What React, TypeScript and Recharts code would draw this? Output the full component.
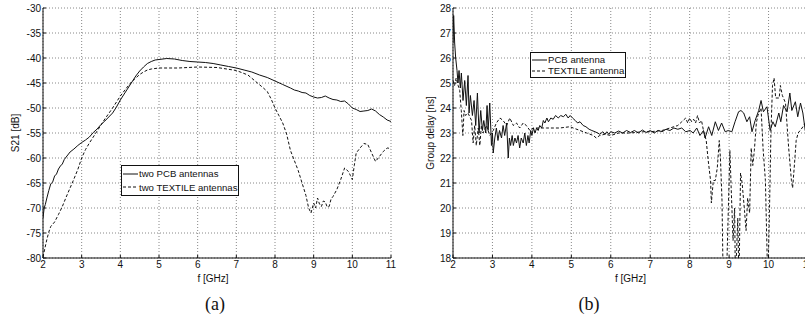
import { LineChart, Line, XAxis, YAxis, CartesianGrid, Legend } from "recharts";

// (a) S21 between two antennas
const pcbFreqA = [2.0, 2.03, 2.06, 2.1, 2.15, 2.2, 2.25, 2.3, 2.35, 2.4, 2.45, 2.5, 2.55, 2.6, 2.7, 2.8, 2.9, 3.0, 3.1, 3.2, 3.3, 3.4, 3.5, 3.6, 3.7, 3.8, 3.9, 4.0, 4.1, 4.2, 4.3, 4.4, 4.5, 4.6, 4.7, 4.8, 4.9, 5.0, 5.2, 5.4, 5.6, 5.8, 6.0, 6.2, 6.4, 6.6, 6.8, 7.0, 7.2, 7.4, 7.6, 7.8, 8.0, 8.2, 8.4, 8.5, 8.6, 8.7, 8.8, 8.9, 9.0, 9.1, 9.2, 9.3, 9.4, 9.5, 9.6, 9.7, 9.8, 9.9, 10.0, 10.1, 10.2, 10.3, 10.4, 10.5, 10.6, 10.7, 10.8, 10.9, 11.0];
const pcbS21 = [-72, -70, -69.3, -68, -66.5, -65.2, -64.8, -63.6, -63.2, -62.2, -61.6, -61.2, -60.3, -59.8, -58.8, -58.2, -57.5, -56.9, -56.4, -55.8, -54.9, -54.2, -53.3, -52.6, -51.8, -51.0, -49.8, -48.4, -47.2, -46.0, -44.8, -43.6, -42.6, -41.8, -41.1, -40.7, -40.4, -40.3, -40.1, -40.2, -40.5, -40.7, -40.8, -40.9, -41.1, -41.4, -41.7, -42.0, -42.4, -42.8, -43.4, -43.9, -44.6, -45.3, -46.0, -46.4, -46.6, -46.9, -47.0, -47.5, -47.8, -48.0, -47.9, -47.6, -48.0, -48.3, -48.4, -48.7, -48.6, -49.2, -50.0, -50.3, -50.7, -50.6, -50.5, -50.2, -50.6, -51.3, -51.8, -52.4, -52.7];

const textileFreqA = [2.0, 2.05, 2.1, 2.15, 2.2, 2.3, 2.4, 2.5, 2.6, 2.7, 2.8, 2.9, 3.0, 3.1, 3.2, 3.3, 3.4, 3.5, 3.6, 3.7, 3.8, 3.9, 4.0, 4.1, 4.2, 4.3, 4.4, 4.5, 4.6, 4.7, 4.8, 5.0, 5.5, 6.0, 6.5, 7.0, 7.3, 7.5, 7.7, 7.8, 7.9, 8.0, 8.1, 8.2, 8.3, 8.4, 8.5, 8.6, 8.7, 8.8, 8.87, 8.93, 9.0, 9.05, 9.1, 9.15, 9.2, 9.25, 9.3, 9.35, 9.4, 9.45, 9.5, 9.6, 9.7, 9.8, 9.9, 9.95, 10.0, 10.05, 10.1, 10.2, 10.3, 10.4, 10.5, 10.6, 10.7, 10.8, 10.9, 11.0];
const textileS21 = [-79.8, -78, -76.3, -74.8, -73.7, -72.8, -71.3, -69.7, -67.8, -66.0, -64.2, -62.3, -60.0, -58.3, -57.0, -55.8, -54.6, -53.4, -52.2, -51.1, -50.0, -48.8, -47.6, -46.6, -45.6, -44.7, -44.0, -43.3, -42.8, -42.4, -42.2, -42.0, -42.0, -41.8, -41.9, -42.5, -43.4, -44.7, -46.0, -46.7, -48.2, -50.0, -51.5, -53.0, -55.2, -58.5, -60.5, -62.5, -65.0, -67.5, -70.0, -71.0, -69.0, -70.0, -68.0, -69.2, -69.7, -68.6, -68.8, -69.8, -69.7, -68.2, -67.7, -66.3, -64.3, -62.0, -62.7, -63.5, -64.3, -61.5, -59.0, -58.0, -57.1, -57.3, -59.0, -60.7, -59.7, -58.7, -58.0, -58.1];

// (b) group delay
const pcbFreqB = [2.0, 2.017, 2.042, 2.068, 2.102, 2.127, 2.153, 2.186, 2.212, 2.254, 2.297, 2.339, 2.381, 2.407, 2.441, 2.492, 2.534, 2.576, 2.619, 2.661, 2.703, 2.746, 2.78, 2.831, 2.864, 2.89, 2.932, 2.975, 3.0, 3.02, 3.06, 3.1, 3.14, 3.18, 3.23, 3.27, 3.31, 3.36, 3.4, 3.43, 3.46, 3.5, 3.53, 3.57, 3.61, 3.65, 3.69, 3.73, 3.78, 3.82, 3.86, 3.9, 3.93, 3.97, 4.0, 4.04, 4.08, 4.12, 4.16, 4.2, 4.25, 4.29, 4.33, 4.38, 4.42, 4.48, 4.54, 4.6, 4.67, 4.73, 4.8, 4.86, 4.92, 4.97, 5.03, 5.1, 5.16, 5.22, 5.3, 5.37, 5.45, 5.52, 5.6, 5.67, 5.72, 5.8, 5.85, 5.9, 5.95, 6.0, 6.1, 6.2, 6.3, 6.4, 6.5, 6.6, 6.7, 6.8, 6.9, 7.0, 7.1, 7.2, 7.3, 7.4, 7.5, 7.6, 7.7, 7.8, 7.9, 8.01, 8.09, 8.18, 8.26, 8.35, 8.39, 8.48, 8.56, 8.65, 8.73, 8.81, 8.9, 8.98, 9.07, 9.15, 9.24, 9.3, 9.37, 9.45, 9.52, 9.58, 9.66, 9.75, 9.81, 9.87, 9.96, 10.04, 10.11, 10.17, 10.26, 10.31, 10.38, 10.47, 10.54, 10.59, 10.68, 10.74, 10.81, 10.87, 10.93, 11.0];
const pcbDelay = [26.6, 27.7, 26.6, 26.0, 25.5, 25.0, 25.5, 24.8, 25.4, 24.3, 25.1, 24.1, 25.3, 23.8, 24.5, 23.7, 24.3, 23.3, 24.6, 23.0, 23.9, 23.1, 23.5, 23.0, 24.1, 23.1, 24.2, 22.5, 23.0, 22.2, 22.8, 23.2, 22.7, 23.1, 22.8, 23.3, 22.9, 23.4, 22.0, 22.8, 22.5, 22.9, 22.5, 22.8, 22.6, 22.9, 22.4, 22.8, 22.6, 23.0, 22.5, 22.9, 22.6, 23.1, 22.9, 23.2, 23.0, 23.2, 23.1, 23.3, 23.2, 23.5, 23.4, 23.6, 23.45, 23.6, 23.55, 23.7, 23.6, 23.7, 23.65, 23.75, 23.6, 23.7, 23.6, 23.5, 23.4, 23.45, 23.3, 23.25, 23.15, 23.1, 23.05, 23.0, 22.95, 23.05, 22.95, 23.05, 22.95, 23.05, 23.0, 23.08, 23.0, 23.1, 23.02, 23.1, 23.0, 23.12, 23.02, 23.1, 23.0, 23.1, 23.05, 23.15, 23.1, 23.2, 23.15, 23.2, 23.05, 23.1, 23.0, 23.2, 22.9, 23.1, 22.8, 23.25, 22.9, 23.45, 23.1, 23.4, 23.05, 23.1, 23.05, 23.45, 23.85, 23.9, 23.8, 23.45, 23.65, 23.05, 23.5, 23.9, 24.3, 23.85, 24.05, 23.1, 23.45, 23.25, 23.8, 23.45, 24.1, 23.85, 24.6, 23.9, 24.25, 23.65, 24.2, 23.8, 23.1, 23.6];

const textileFreqB = [2.0, 2.04, 2.08, 2.13, 2.17, 2.21, 2.25, 2.28, 2.32, 2.38, 2.47, 2.51, 2.55, 2.59, 2.64, 2.68, 2.72, 2.76, 2.85, 2.93, 3.02, 3.1, 3.19, 3.27, 3.36, 3.44, 3.53, 3.61, 3.69, 3.78, 3.86, 3.95, 4.03, 4.2, 4.37, 4.54, 4.71, 4.96, 5.05, 5.22, 5.39, 5.56, 5.63, 5.72, 5.85, 6.0, 6.2, 6.5, 6.8, 7.0, 7.3, 7.5, 7.7, 7.8, 7.9, 7.95, 8.0, 8.05, 8.1, 8.15, 8.2, 8.25, 8.3, 8.35, 8.42, 8.47, 8.53, 8.55, 8.6, 8.65, 8.7, 8.75, 8.78, 8.82, 8.85, 8.93, 9.02, 9.05, 9.1, 9.14, 9.16, 9.22, 9.25, 9.29, 9.33, 9.39, 9.43, 9.47, 9.52, 9.56, 9.6, 9.64, 9.69, 9.73, 9.81, 9.86, 9.92, 9.98, 10.02, 10.06, 10.1, 10.14, 10.18, 10.27, 10.3, 10.35, 10.43, 10.51, 10.58, 10.61, 10.65, 10.7, 10.75, 10.85, 10.93];
const textileDelay = [25.1, 24.9, 25.2, 24.9, 24.7, 23.9, 22.9, 23.9, 23.7, 23.8, 23.5, 22.6, 23.3, 22.5, 23.2, 22.5, 23.3, 23.0, 23.3, 22.9, 23.1, 23.4, 23.6, 23.5, 23.3, 23.6, 23.3, 23.4, 23.2, 23.4, 23.3, 23.1, 23.2, 23.2, 23.2, 23.2, 23.2, 23.25, 23.2, 23.1, 23.0, 22.9, 22.8, 22.9, 22.95, 22.9, 23.0, 23.0, 23.05, 23.05, 23.1, 23.2, 23.3, 23.45, 23.6, 23.4, 23.6, 23.45, 23.55, 23.4, 23.7, 23.4, 23.5, 23.1, 22.7, 21.9, 21.1, 20.2, 21.1, 21.1, 21.6, 22.7, 22.0, 20.3, 17.0, 17.0, 22.3, 20.9, 18.7, 20.0, 17.0, 19.6, 17.0, 21.4, 21.0, 19.9, 19.1, 20.4, 19.8, 22.4, 21.7, 22.3, 23.4, 23.7, 24.0, 22.4, 21.1, 17.0, 19.6, 23.0, 24.9, 25.2, 24.4, 24.4, 24.9, 24.5, 24.2, 22.4, 21.1, 20.8, 21.6, 22.7, 23.0, 23.2, 23.4];

const freqTicksA = [2, 3, 4, 5, 6, 7, 8, 9, 10, 11];
const s21Ticks = [-80, -75, -70, -65, -60, -55, -50, -45, -40, -35, -30];
const freqTicksB = [2, 3, 4, 5, 6, 7, 8, 9, 10, 11];
const delayTicks = [18, 19, 20, 21, 22, 23, 24, 25, 26, 27, 28];

const zip = (xs: number[], ys: number[]) => xs.map((f, i) => ({ f, v: ys[i] }));

const SANS = "'Liberation Sans', Arial, sans-serif";
const tickStyle = { fontSize: 10, fill: "#111", fontFamily: SANS };
const labelStyle = { fontSize: 10, fill: "#111", fontFamily: SANS };

function LegendBox({ items, rowH }: { items: { name: string; dash?: string }[]; rowH: number }) {
  return (
    <div style={{ background: "#fff", border: "1px solid #111", padding: "1px 1px 1px 1px", fontFamily: SANS, fontSize: 9.6, color: "#111" }}>
      {items.map((it) => (
        <div key={it.name} style={{ display: "flex", alignItems: "center", height: rowH, whiteSpace: "nowrap" }}>
          <svg width={15} height={4} style={{ marginRight: 1 }}>
            <line x1={0} y1={2} x2={15} y2={2} stroke="#111" strokeWidth={1} strokeDasharray={it.dash} />
          </svg>
          {it.name}
        </div>
      ))}
    </div>
  );
}

function PanelA() {
  return (
    <LineChart width={400} height={320} margin={{ top: 8, right: 9, bottom: 42, left: 0 }}>
      <CartesianGrid stroke="#888" strokeDasharray="1 2" />
      <XAxis type="number" dataKey="f" domain={[2, 11]} ticks={freqTicksA} allowDataOverflow height={20}
        tick={tickStyle} tickSize={-3} tickMargin={6} stroke="#111"
        label={{ value: "f [GHz]", position: "center", dx: -4, dy: 10, style: labelStyle }} />
      <YAxis type="number" dataKey="v" domain={[-80, -30]} ticks={s21Ticks} allowDataOverflow width={43}
        tick={tickStyle} tickSize={-3} tickMargin={5} stroke="#111"
        label={{ value: "S21 [dB]", angle: -90, position: "center", dx: -6, style: labelStyle }} />
      <Legend layout="vertical" align="center" verticalAlign="middle"
        wrapperStyle={{ left: 121, top: 165, width: "auto" }}
        content={() => <LegendBox rowH={13.5} items={[{ name: "two PCB antennas" }, { name: "two TEXTILE antennas", dash: "3 2" }]} />} />
      <Line data={zip(pcbFreqA, pcbS21)} dataKey="v" name="two PCB antennas" stroke="#111" strokeWidth={1} dot={false} isAnimationActive={false} />
      <Line data={zip(textileFreqA, textileS21)} dataKey="v" name="two TEXTILE antennas" stroke="#111" strokeWidth={1} strokeDasharray="3 2" dot={false} isAnimationActive={false} />
    </LineChart>
  );
}

function PanelB() {
  return (
    <LineChart width={420} height={320} margin={{ top: 8, right: 12, bottom: 42, left: 0 }}>
      <CartesianGrid stroke="#888" strokeDasharray="1 2" />
      <XAxis type="number" dataKey="f" domain={[2, 11]} ticks={freqTicksB} allowDataOverflow height={20}
        tick={tickStyle} tickSize={-3} tickMargin={6} stroke="#111"
        label={{ value: "f [GHz]", position: "center", dy: 10, style: labelStyle }} />
      <YAxis type="number" dataKey="v" domain={[18, 28]} ticks={delayTicks} allowDataOverflow width={53}
        tick={tickStyle} tickSize={-3} tickMargin={5} stroke="#111"
        label={{ value: "Group delay [ns]", angle: -90, position: "center", dx: 4, style: labelStyle }} />
      <Legend layout="vertical" align="center" verticalAlign="middle"
        wrapperStyle={{ left: 130, top: 52, width: "auto" }}
        content={() => <LegendBox rowH={11} items={[{ name: "PCB antenna" }, { name: "TEXTILE antenna", dash: "3 2" }]} />} />
      <Line data={zip(pcbFreqB, pcbDelay)} dataKey="v" name="PCB antenna" stroke="#111" strokeWidth={1} dot={false} isAnimationActive={false} />
      <Line data={zip(textileFreqB, textileDelay)} dataKey="v" name="TEXTILE antenna" stroke="#111" strokeWidth={1} strokeDasharray="3 2" dot={false} isAnimationActive={false} />
    </LineChart>
  );
}

const captionStyle: React.CSSProperties = {
  position: "absolute", top: 293, width: 40, textAlign: "center",
  fontFamily: "'Liberation Serif', 'Times New Roman', serif", fontSize: 18, color: "#111", lineHeight: "22px",
};

export default function App() {
  return (
    <div style={{ position: "fixed", top: 0, left: 0, width: 805, height: 320, overflow: "hidden", background: "#fff" }}>
      <div style={{ position: "absolute", left: 0, top: 0 }}>
        <PanelA />
      </div>
      <div style={{ position: "absolute", left: 400, top: 0 }}>
        <PanelB />
      </div>
      <div style={{ ...captionStyle, left: 195 }}>(a)</div>
      <div style={{ ...captionStyle, left: 569 }}>(b)</div>
    </div>
  );
}
